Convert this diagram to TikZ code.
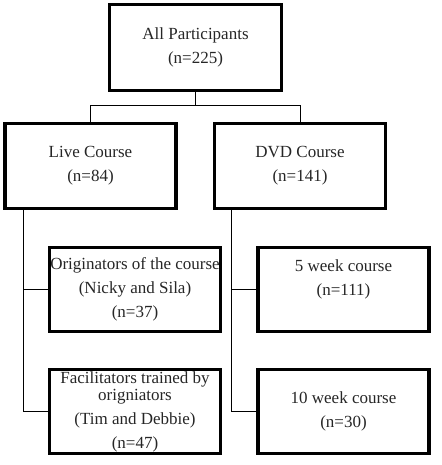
\documentclass[tikz,border=0pt]{standalone}
\usepackage{fontspec}
\setmainfont{Liberation Serif}
\begin{document}
\begin{tikzpicture}[x=1pt,y=-1pt,
  box/.style={draw=black, line width=3.2pt, rectangle, align=center, inner sep=0pt,
    minimum width=171pt, minimum height=84.5pt, text=black!85,
    font=\fontsize{17}{24}\selectfont},
  conn/.style={draw=black, line width=1pt}]
\useasboundingbox (0,0) rectangle (441,465);
% boxes
\node[box, minimum width=171.8pt, minimum height=85.8pt] (top) at (195.5,47.5) {All Participants\\(n=225)};
\node[box] (live) at (90.5,166) {Live Course\\(n=84)};
\node[box] (dvd) at (300,166) {DVD Course\\(n=141)};
\node[box] (orig) at (135,289.5) {Originators of the course\\(Nicky and Sila)\\(n=37)};
\node[box] (facil) at (135,411.5) {Facilitators trained by\\[-7pt]origniators\\(Tim and Debbie)\\(n=47)};
\node[box] (five) at (343.5,289.5) {5 week course\\(n=111)\\\mbox{}};
\node[box] (ten) at (343.5,411.5) {10 week course\\(n=30)};
% connectors
\coordinate (split) at (195.5,106);
\coordinate (lv) at (23,210);
\coordinate (rv) at (231,210);
\draw[conn] (top.south) -- (split);
\draw[conn] (split) -| (live.north);
\draw[conn] (split) -| (dvd.north);
\draw[conn] (lv) |- (orig.west);
\draw[conn] (lv) |- (facil.west);
\draw[conn] (rv) |- (five.west);
\draw[conn] (rv) |- (ten.west);
\end{tikzpicture}
\end{document}
